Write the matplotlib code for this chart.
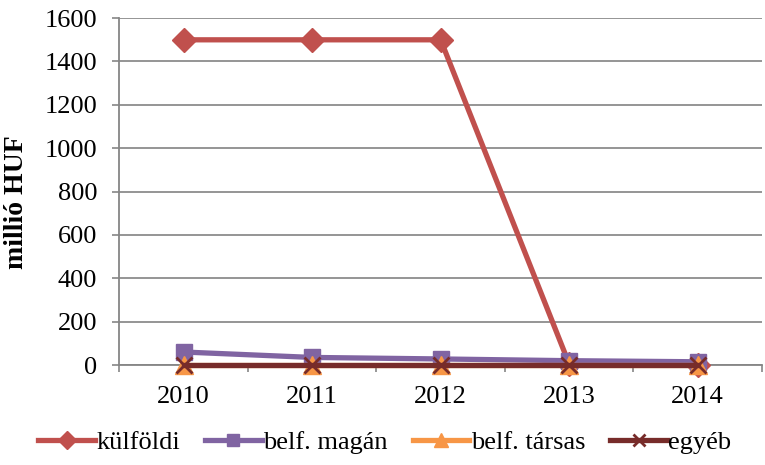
import matplotlib
matplotlib.use("Agg")
import matplotlib.pyplot as plt
from matplotlib.ticker import FixedLocator

years = ["2010", "2011", "2012", "2013", "2014"]
kulfoldi = [1500, 1500, 1500, 5, 0]
belf_magan = [60, 35, 28, 20, 15]
belf_tarsas = [0, 0, 0, 0, 0]
egyeb = [0, 0, 0, 0, 0]
yticks = [0, 200, 400, 600, 800, 1000, 1200, 1400, 1600]

plt.rcParams['font.family'] = ['Liberation Serif', 'DejaVu Serif']

fig = plt.figure(figsize=(7.65, 4.65), dpi=100)
ax = fig.add_axes([0.156, 0.215, 0.84, 0.746])

x = list(range(len(years)))
ax.plot(x, kulfoldi, color='#C0504D', lw=3.8, marker='D', ms=12.5, label='külföldi', zorder=3, clip_on=False)
ax.plot(x, belf_magan, color='#8064A2', lw=3.8, marker='s', ms=11.5, label='belf. magán', zorder=4, clip_on=False)
ax.plot(x, belf_tarsas, color='#F79646', lw=3.8, marker='^', ms=13, label='belf. társas', zorder=5, clip_on=False)
ax.plot(x, egyeb, color='#772C2A', lw=3.8, marker='x', ms=12, mew=2, label='egyéb', zorder=6, clip_on=False)

ax.set_xlim(-0.5, len(years) - 0.5)
ax.set_ylim(0, 1600)
ax.set_yticks(yticks)
ax.set_xticks(x)
ax.set_xticklabels(years)
ax.xaxis.set_minor_locator(FixedLocator([i - 0.5 for i in range(len(years) + 1)]))
ax.tick_params(axis='x', which='major', length=0, labelsize=19, pad=15)
ax.tick_params(axis='x', which='minor', length=5, color='#868686', width=1.2, direction='out')
ax.tick_params(axis='y', length=5, color='#868686', width=1.2, labelsize=19, pad=11)
ax.grid(axis='y', color='#8C8C8C', lw=1.3)
ax.set_axisbelow(True)
for s in ['top', 'right']:
    ax.spines[s].set_visible(False)
ax.spines['left'].set_color('#868686')
ax.spines['left'].set_linewidth(1.3)
ax.spines['bottom'].set_color('#868686')
ax.spines['bottom'].set_linewidth(1.3)

ax.set_ylabel('millió HUF', fontsize=20, fontweight='bold')
ax.yaxis.set_label_coords(-0.14, 0.47)

fig.legend(loc='center', bbox_to_anchor=(0.503, 0.048), ncol=4, frameon=False,
           fontsize=19, handlelength=2.15, handletextpad=0.05, columnspacing=0.95,
           markerscale=0.75)

fig.savefig('out.png', dpi=100)
